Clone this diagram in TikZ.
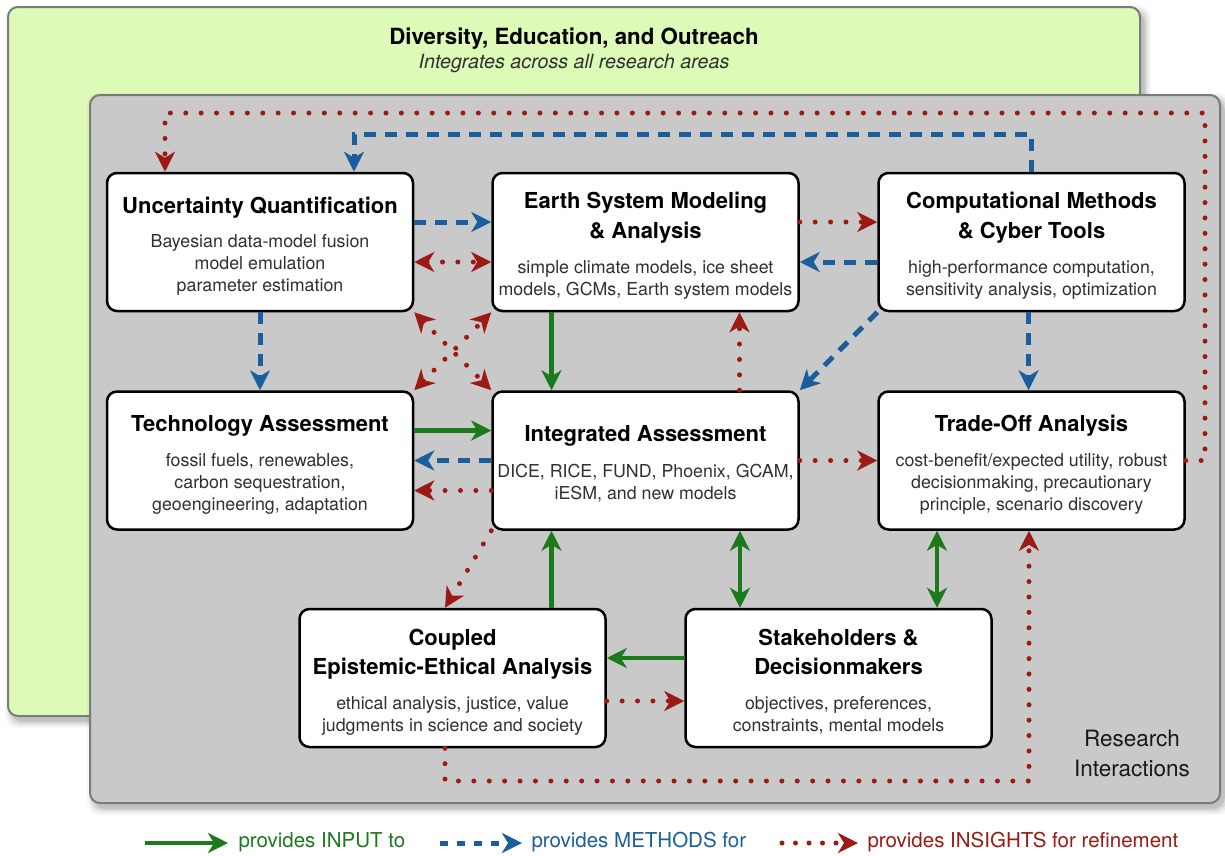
\documentclass[tikz,border=0pt]{standalone}
\usepackage{fontspec}
\setmainfont{TeX Gyre Heros}
\usetikzlibrary{arrows.meta}

\definecolor{ingreen}{HTML}{1B7A1B}
\definecolor{methblue}{HTML}{1A5E9E}
\definecolor{insred}{HTML}{9C1A14}
\definecolor{outreach}{HTML}{DDFAB6}
\definecolor{panel}{HTML}{C9C9C9}
\definecolor{rim}{HTML}{7A7A7A}
\definecolor{bodytext}{HTML}{303030}

% soft shadow under a rounded panel: corners (x1,y1) and (x2,y2)
\newcommand\panelshadow[4]{%
  \foreach \s/\o in {1/0.10,3/0.07,5/0.05,7/0.03}{%
    \fill[black,opacity=\o,rounded corners=12pt]
      ({#1+4-\s},{#2+5-\s}) rectangle ({#3+4+\s},{#4+5+\s});
  }}

\begin{document}
\begin{tikzpicture}[x=1pt,y=-1pt,
  >={Stealth[length=20pt,width=20pt,inset=6pt]},
  inputline/.style={draw=ingreen,line width=4.5pt,->},
  methline/.style={draw=methblue,line width=5pt,dash pattern=on 12pt off 9pt,->},
  insline/.style={draw=insred,line width=5pt,line cap=round,dash pattern=on 0pt off 15.4pt,->},
  box/.style={draw=black,line width=2.5pt,fill=white,rounded corners=10pt,
    minimum width=306pt,minimum height=138pt,inner sep=0pt},
  ttl/.style={anchor=base,font=\fontsize{22}{26}\selectfont\bfseries,text=black},
  bdy/.style={anchor=base,font=\fontsize{17.8}{22}\selectfont,text=bodytext},
  legtext/.style={anchor=west,font=\fontsize{20.5}{24}\selectfont},
]
\useasboundingbox (0,0) rectangle (1225,855);
\fill[white] (0,0) rectangle (1225,855);

% outreach panel
\panelshadow{8}{7}{1140}{716}
\draw[fill=outreach,draw=rim,line width=2pt,rounded corners=10pt] (8,7) rectangle (1140,716);
\node[anchor=base,font=\fontsize{22.3}{26}\selectfont\bfseries] (deo) at (574,44.3) {Diversity, Education, and Outreach};
\node[anchor=base,font=\fontsize{19.7}{23}\selectfont\itshape,text=bodytext] (deosub) at (574,68.3) {Integrates across all research areas};

% research panel
\panelshadow{90}{95}{1220}{803}
\draw[fill=panel,draw=rim,line width=2pt,rounded corners=10pt] (90,95) rectangle (1220,803);
\node[anchor=base,font=\fontsize{22.5}{26}\selectfont,text=black!90] (ri1) at (1132,746.7) {Research};
\node[anchor=base,font=\fontsize{22.5}{26}\selectfont,text=black!90] (ri2) at (1132,776.7) {Interactions};

% research areas
\node[box] (uq)   at (260,242)   {};
\node[box] (esm)  at (645.5,242) {};
\node[box] (cmct) at (1031.5,242) {};
\node[box] (ta)   at (260,460.5) {};
\node[box] (ia)   at (645.5,460.5) {};
\node[box] (toa)  at (1031.5,460.5) {};
\node[box] (ceea) at (452.5,678) {};
\node[box] (sd)   at (838.5,678) {};

\node[ttl] (uqT)  at (260,213) {Uncertainty Quantification};
\node[bdy] (uqB1) at (260,247.5) {Bayesian data-model fusion};
\node[bdy] (uqB2) at (260,269.5) {model emulation};
\node[bdy] (uqB3) at (260,291.5) {parameter estimation};

\node[ttl] (esmT1) at (645.5,208.5) {Earth System Modeling};
\node[ttl] (esmT2) at (645.5,238.5) {\& Analysis};
\node[bdy] (esmB1) at (645.5,273.5) {simple climate models, ice sheet};
\node[bdy] (esmB2) at (645.5,295.5) {models, GCMs, Earth system models};

\node[ttl] (cmT1) at (1031.5,208.5) {Computational Methods};
\node[ttl] (cmT2) at (1031.5,238.5) {\& Cyber Tools};
\node[bdy] (cmB1) at (1031.5,273.5) {high-performance computation,};
\node[bdy] (cmB2) at (1031.5,295.5) {sensitivity analysis, optimization};

\node[ttl] (taT)  at (260,431) {Technology Assessment};
\node[bdy] (taB1) at (260,466) {fossil fuels, renewables,};
\node[bdy] (taB2) at (260,488) {carbon sequestration,};
\node[bdy] (taB3) at (260,510) {geoengineering, adaptation};

\node[ttl] (iaT)  at (645.5,441.5) {Integrated Assessment};
\node[bdy] (iaB1) at (645.5,477) {DICE, RICE, FUND, Phoenix, GCAM,};
\node[bdy] (iaB2) at (645.5,499) {iESM, and new models};

\node[ttl] (toaT)  at (1031.5,431) {Trade-Off Analysis};
\node[bdy] (toaB1) at (1031.5,466) {cost-benefit/expected utility, robust};
\node[bdy] (toaB2) at (1031.5,488) {decisionmaking, precautionary};
\node[bdy] (toaB3) at (1031.5,510) {principle, scenario discovery};

\node[ttl] (ceT1) at (452.5,645) {Coupled};
\node[ttl] (ceT2) at (452.5,674) {Epistemic-Ethical Analysis};
\node[bdy] (ceB1) at (452.5,709) {ethical analysis, justice, value};
\node[bdy] (ceB2) at (452.5,731) {judgments in science and society};

\node[ttl] (sdT1) at (838.5,645) {Stakeholders \&};
\node[ttl] (sdT2) at (838.5,674) {Decisionmakers};
\node[bdy] (sdB1) at (838.5,709) {objectives, preferences,};
\node[bdy] (sdB2) at (838.5,731) {constraints, mental models};

% bends of the long connectors
\coordinate (ibend) at (1205,113);
\coordinate (mbend) at (354,134);
\coordinate (lbend) at (1029,781);

% long loops
\draw[insline] (toa.east) -| (ibend) -| ([xshift=-95pt]uq.north);
\draw[methline] (cmct.north) |- (mbend) -- ([xshift=94pt]uq.north);
\draw[insline] ([xshift=-7.5pt]ceea.south) |- (lbend) -- ([xshift=-2.5pt]toa.south);

% top row
\draw[methline] ([yshift=20pt]uq.east) -- ([yshift=20pt]esm.west);
\draw[insline,<->] ([yshift=-20pt]uq.east) -- ([yshift=-20pt]esm.west);
\draw[insline] ([yshift=20pt]esm.east) -- ([yshift=20pt]cmct.west);
\draw[methline] ([yshift=-20pt]cmct.west) -- ([yshift=-20pt]esm.east);

% top to middle row
\draw[methline] (uq.south) -- (ta.north);
\draw[insline,<->] (uq.south east) -- (ia.north west);
\draw[insline,<->] (ta.north east) -- (esm.south west);
\draw[inputline] ([xshift=-94pt]esm.south) -- ([xshift=-94pt]ia.north);
\draw[insline] ([xshift=94pt]ia.north) -- ([xshift=94pt]esm.south);
\draw[methline] (cmct.south west) -- (ia.north east);
\draw[methline] ([xshift=-3pt]cmct.south) -- ([xshift=-3pt]toa.north);

% middle row
\draw[inputline] ([yshift=30pt]ta.east) -- ([yshift=30pt]ia.west);
\draw[methline] (ia.west) -- (ta.east);
\draw[insline] ([yshift=-30pt]ia.west) -- ([yshift=-30pt]ta.east);
\draw[insline] (ia.east) -- (toa.west);

% middle to bottom row
\draw[insline] (ia.south west) -- ([xshift=-7.5pt]ceea.north);
\draw[inputline] ([xshift=99pt]ceea.north) -- ([xshift=-94pt]ia.south);
\draw[inputline,<->] ([xshift=94.5pt]ia.south) -- ([xshift=-98.5pt]sd.north);
\draw[inputline,<->] ([xshift=-94.5pt]toa.south) -- ([xshift=98.5pt]sd.north);

% bottom row
\draw[inputline] ([yshift=20pt]sd.west) -- ([yshift=20pt]ceea.east);
\draw[insline] ([yshift=-23pt]ceea.east) -- ([yshift=-23pt]sd.west);

% legend
\coordinate (lgA1) at (145,843);
\coordinate (lgA2) at (228,843);
\coordinate (lgB1) at (440,843);
\coordinate (lgB2) at (522,843);
\coordinate (lgC1) at (782,843);
\coordinate (lgC2) at (858,843);
\draw[inputline] (lgA1) -- (lgA2);
\node[legtext,text=ingreen] (lgA) at (235,842) {provides INPUT to};
\draw[methline,dash pattern=on 8pt off 9pt] (lgB1) -- (lgB2);
\node[legtext,text=methblue] (lgB) at (528,842) {provides METHODS for};
\draw[insline,dash pattern=on 0pt off 13.5pt] (lgC1) -- (lgC2);
\node[legtext,text=insred] (lgC) at (864,842) {provides INSIGHTS for refinement};
\end{tikzpicture}
\end{document}
